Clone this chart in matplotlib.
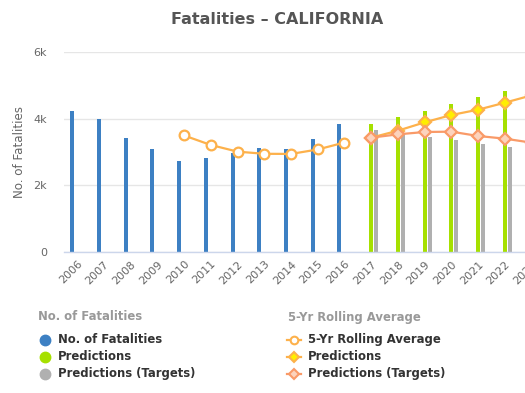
import matplotlib
matplotlib.use("Agg")
import matplotlib.pyplot as plt
from matplotlib.lines import Line2D

years = list(range(2006, 2024))
hist_years = list(range(2006, 2017))
fatalities = [4240, 3995, 3430, 3090, 2720, 2820, 2970, 3110, 3100, 3390, 3840]
pred_years = list(range(2017, 2024))
predictions = [3840, 4050, 4230, 4440, 4650, 4830, 5000]
pred_targets = [3660, 3550, 3450, 3360, 3240, 3150, 3050]
roll_years = list(range(2010, 2017))
rolling = [3496, 3211, 3011, 2946, 2942, 3076, 3284]
roll_pred_years = list(range(2017, 2024))
roll_pred = [3430, 3640, 3890, 4110, 4270, 4480, 4700]
roll_targets = [3430, 3530, 3600, 3610, 3480, 3400, 3280]
yticks = [0, 2000, 4000, 6000]
ytick_labels = ["0", "2k", "4k", "6k"]

W, H = 525, 393
fig = plt.figure(figsize=(W / 100, H / 100), dpi=100)
plt.rcParams['font.family'] = ['DejaVu Sans']

cat_w = 26.74
left_px = 63.7
ax_w = 18 * cat_w
ax = fig.add_axes([left_px / W, (H - 252) / H, ax_w / W, 200 / H])
ax.set_xlim(2005.5, 2023.5)
ax.set_ylim(0, 6000)

blue = '#3d80c3'
green = '#a6e000'
gray = '#b0b0b0'
orange = '#fdb14b'
salmon = '#f99a68'

bw = 4.0 / cat_w
off = 5.0 / cat_w
ax.bar([y - off for y in hist_years], fatalities, width=bw, color=blue, zorder=2)
ax.bar(pred_years, predictions, width=bw, color=green, zorder=2)
ax.bar([y + off for y in pred_years], pred_targets, width=bw, color=gray, zorder=2)

ax.plot(roll_years, rolling, color=orange, lw=1.6, marker='o', ms=7,
        mfc='white', mec=orange, mew=1.6, zorder=4, clip_on=True)
ax.plot(roll_pred_years, roll_pred, color=orange, lw=1.6, marker='D', ms=6.5,
        mfc='#ffee00', mec=orange, mew=1.6, zorder=4)
ax.plot(roll_pred_years, roll_targets, color=salmon, lw=1.6, marker='D', ms=6.5,
        mfc='#fcd3bd', mec=salmon, mew=1.6, zorder=4)

for s in ['top', 'right', 'left']:
    ax.spines[s].set_visible(False)
ax.spines['bottom'].set_color('#ccd6eb')
ax.spines['bottom'].set_linewidth(1)
ax.set_yticks(yticks)
ax.set_yticklabels(ytick_labels)
ax.yaxis.grid(True, color='#e6e6e6', lw=1, zorder=0)
ax.set_axisbelow(True)
ax.tick_params(axis='y', length=0, pad=12, labelcolor='#666666', labelsize=8)
ax.set_xticks(years)
ax.set_xticklabels([str(y) for y in years], rotation=45, ha='right',
                   rotation_mode='anchor')
ax.tick_params(axis='x', length=0, pad=5, labelcolor='#666666', labelsize=8)
ax.set_ylabel('No. of Fatalities', color='#666666', fontsize=8.6, labelpad=5)

fig.text(277 / W, 1 - 19 / H, 'Fatalities \u2013 CALIFORNIA', ha='center', va='center',
         fontsize=11.5, fontweight='bold', color='#555555')

def fx(px):
    return px / W

def fy(py):
    return 1 - py / H

leg_fs = 8.4
fig.text(fx(38), fy(317), 'No. of Fatalities', ha='left', va='center',
         fontsize=leg_fs, fontweight='bold', color='#999999')
fig.text(fx(288), fy(317), '5-Yr Rolling Average', ha='left', va='center',
         fontsize=leg_fs, fontweight='bold', color='#999999')

left_items = [('No. of Fatalities', blue), ('Predictions', green),
              ('Predictions (Targets)', gray)]
rows = [339.5, 356.5, 373.5]
for (lab, c), ry in zip(left_items, rows):
    fig.add_artist(Line2D([fx(45)], [fy(ry)], marker='o', ms=7.5, color=c,
                          mec=c, transform=fig.transFigure, lw=0))
    fig.text(fx(58), fy(ry), lab, ha='left', va='center', fontsize=leg_fs,
             fontweight='bold', color='#333333')

right_items = [('5-Yr Rolling Average', orange, 'o', 'white', 5.5),
               ('Predictions', orange, 'D', '#ffee00', 5.5),
               ('Predictions (Targets)', salmon, 'D', '#fcd3bd', 5.5)]
for (lab, c, m, fc, ms), ry in zip(right_items, rows):
    fig.add_artist(Line2D([fx(287), fx(301)], [fy(ry), fy(ry)], color=c, lw=1.6,
                          transform=fig.transFigure))
    fig.add_artist(Line2D([fx(294)], [fy(ry)], marker=m, ms=ms, mfc=fc, mec=c,
                          mew=1.5, lw=0, transform=fig.transFigure))
    fig.text(fx(308), fy(ry), lab, ha='left', va='center', fontsize=leg_fs,
             fontweight='bold', color='#333333')

fig.savefig('out.png', dpi=100, facecolor='white')
